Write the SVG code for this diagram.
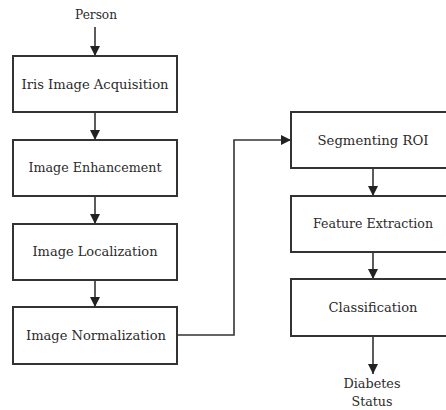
<svg xmlns="http://www.w3.org/2000/svg" width="446" height="410" viewBox="0 0 446 410">
<defs>
<marker id="ah" viewBox="0 0 10 10" refX="10" refY="5" markerWidth="10" markerHeight="10" markerUnits="userSpaceOnUse" orient="auto">
<path d="M0,0 L10,5 L0,10 z" fill="#222"/>
</marker>
<style>
.box{fill:#fff;stroke:#333;stroke-width:2}
.t{font-family:"DejaVu Serif","Liberation Serif",serif;font-size:12px;fill:#2a2a2a;text-anchor:middle;dominant-baseline:central}
.c{fill:none;stroke:#333;stroke-width:1.6;marker-end:url(#ah)}
</style>
</defs>
<rect width="446" height="410" fill="#fff"/>
<g id="connectors">
<line class="c" x1="95" y1="27" x2="95" y2="56"/>
<line class="c" x1="95" y1="112" x2="95" y2="140"/>
<line class="c" x1="95" y1="196" x2="95" y2="224"/>
<line class="c" x1="95" y1="280" x2="95" y2="307"/>
<polyline class="c" points="177,335 234,335 234,140 291,140"/>
<line class="c" x1="373" y1="168" x2="373" y2="196"/>
<line class="c" x1="373" y1="252" x2="373" y2="279"/>
<line class="c" x1="373" y1="336" x2="373" y2="374"/>
</g>
<g id="person"><text class="t" x="96" y="15" textLength="42" lengthAdjust="spacingAndGlyphs">Person</text></g>
<g id="n1"><rect class="box" x="13" y="56" width="164" height="56"/><text class="t" x="95" y="85" textLength="147" lengthAdjust="spacingAndGlyphs">Iris Image Acquisition</text></g>
<g id="n2"><rect class="box" x="13" y="140" width="164" height="56"/><text class="t" x="95" y="168" textLength="133" lengthAdjust="spacingAndGlyphs">Image Enhancement</text></g>
<g id="n3"><rect class="box" x="13" y="224" width="164" height="56"/><text class="t" x="95" y="252" textLength="125" lengthAdjust="spacingAndGlyphs">Image Localization</text></g>
<g id="n4"><rect class="box" x="13" y="307" width="164" height="57"/><text class="t" x="96" y="336" textLength="140" lengthAdjust="spacingAndGlyphs">Image Normalization</text></g>
<g id="n5"><rect class="box" x="291" y="112" width="164" height="56"/><text class="t" x="373" y="141" textLength="111" lengthAdjust="spacingAndGlyphs">Segmenting ROI</text></g>
<g id="n6"><rect class="box" x="291" y="196" width="164" height="56"/><text class="t" x="373" y="224" textLength="120" lengthAdjust="spacingAndGlyphs">Feature Extraction</text></g>
<g id="n7"><rect class="box" x="291" y="279" width="164" height="57"/><text class="t" x="373" y="308" textLength="89" lengthAdjust="spacingAndGlyphs">Classification</text></g>
<g id="out"><text class="t" x="372" y="384" textLength="57" lengthAdjust="spacingAndGlyphs">Diabetes</text><text class="t" x="372" y="402" textLength="41" lengthAdjust="spacingAndGlyphs">Status</text></g>
</svg>
